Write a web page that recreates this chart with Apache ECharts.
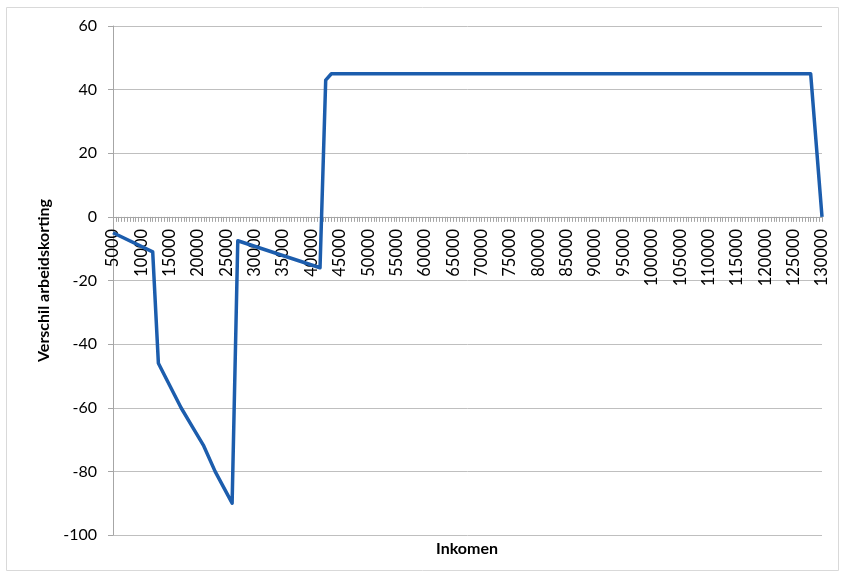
<!DOCTYPE html>
<html>
<head>
<meta charset="utf-8">
<script src="https://cdn.jsdelivr.net/npm/echarts@6/dist/echarts.min.js"></script>
<style>
  html, body { margin: 0; padding: 0; background: #fff; }
  #chart { width: 846px; height: 576px; }
</style>
</head>
<body>
<div id="chart"></div>
<script>
// breakpoints of the line
const incomes = [5000, 12000, 13000, 15000, 17000, 19000, 21000, 23000, 26000, 27000, 41500, 42500, 43500, 128000, 130000];
const verschil = [-5, -11, -46, -53, -60, -66, -72, -80, -90, -7.5, -16, 43, 45, 45, 0];

const font = 'Lato, "Open Sans", sans-serif';
const gridTop = 26, gridBottom = 41, yMin = -100, yMax = 60;
// move the x axis up to the zero line of the y axis
const plotH = 576 - gridTop - gridBottom;
const zeroOffset = -plotH * (0 - yMin) / (yMax - yMin);

const chart = echarts.init(document.getElementById('chart'), null, { renderer: 'canvas' });

chart.setOption({
  animation: false,
  grid: { left: 113, right: 24, top: gridTop, bottom: gridBottom, containLabel: false, outerBoundsMode: 'none' },
  xAxis: {
    type: 'value',
    position: 'bottom',
    offset: zeroOffset,
    min: 5000,
    max: 130000,
    interval: 5000,
    axisLine: { onZero: false, lineStyle: { color: '#a6a6a6', width: 1 } },
    axisTick: { show: true, length: 5, lineStyle: { color: '#a6a6a6' } },
    minorTick: { show: true, splitNumber: 10, length: 5, lineStyle: { color: '#a6a6a6' } },
    splitLine: { show: false },
    axisLabel: {
      rotate: 90,
      fontFamily: font,
      fontSize: 16.5,
      color: '#000',
      margin: 12,
      showMinLabel: true,
      showMaxLabel: true,
      hideOverlap: false,
      formatter: v => String(v)
    }
  },
  yAxis: {
    type: 'value',
    min: yMin,
    max: yMax,
    interval: 20,
    name: 'Verschil arbeidskorting',
    nameLocation: 'middle',
    nameGap: 51,
    nameTextStyle: { fontFamily: font, fontSize: 16, fontWeight: 'bold', color: '#000' },
    axisLine: { show: true, onZero: false, lineStyle: { color: '#a6a6a6' } },
    axisTick: { show: true, length: 5, lineStyle: { color: '#a6a6a6' } },
    splitLine: { lineStyle: { color: '#bfbfbf', width: 1 } },
    axisLabel: { fontFamily: font, fontSize: 16, color: '#000', margin: 16 }
  },
  graphic: [
    {
      type: 'rect',
      shape: { x: 6.5, y: 7.5, width: 832, height: 563 },
      style: { fill: 'none', stroke: '#d9d9d9', lineWidth: 1 },
      silent: true
    },
    {
      type: 'text',
      x: 467,
      y: 549,
      style: {
        text: 'Inkomen',
        fontFamily: font,
        fontSize: 16,
        fontWeight: 'bold',
        fill: '#000',
        align: 'center',
        verticalAlign: 'middle'
      }
    }
  ],
  series: [{
    type: 'line',
    data: incomes.map((v, i) => [v, verschil[i]]),
    showSymbol: false,
    lineStyle: { color: '#1c5dad', width: 3.5, join: 'round' },
    z: 5
  }]
});
</script>
</body>
</html>
